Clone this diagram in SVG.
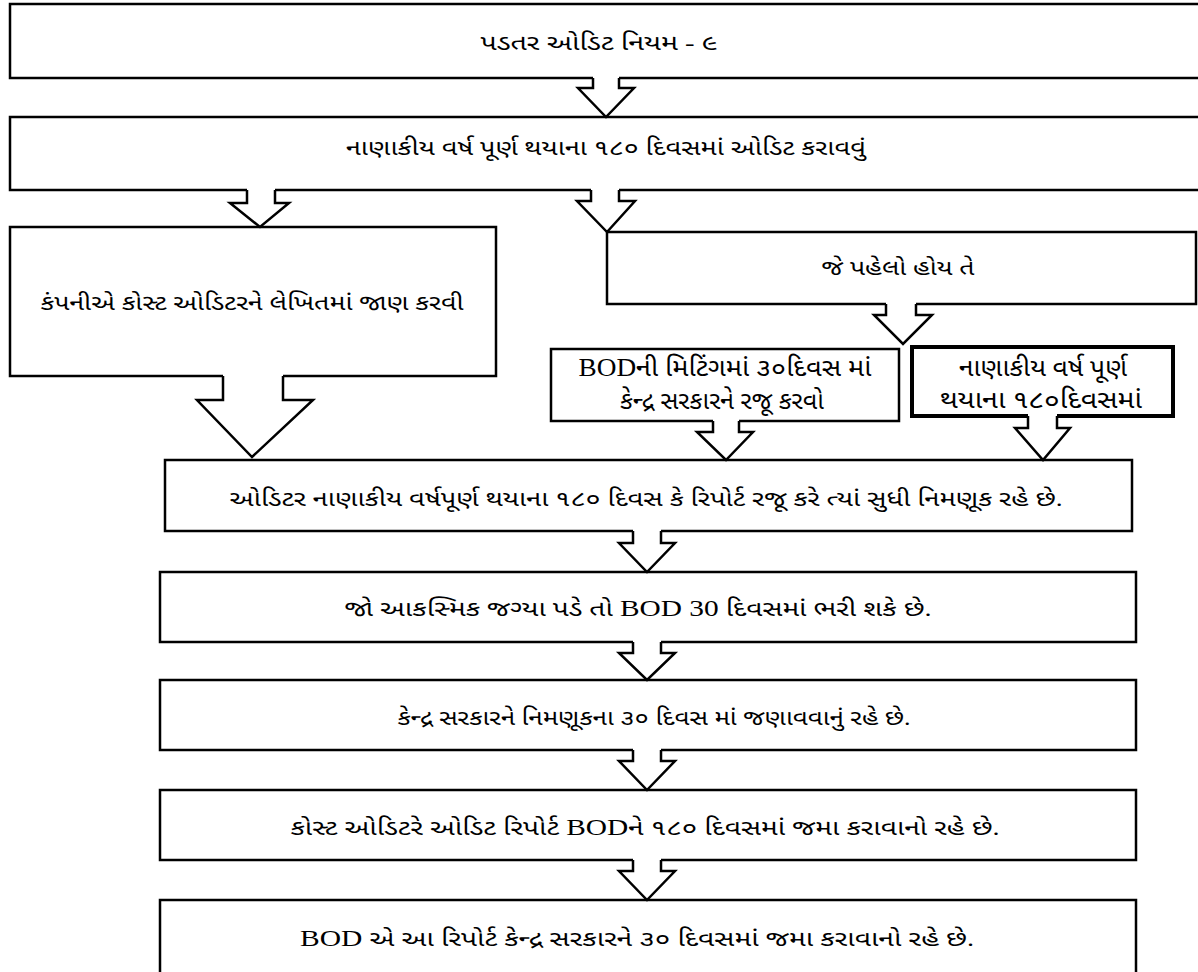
<svg xmlns="http://www.w3.org/2000/svg" width="1198" height="972" viewBox="0 0 1198 972">
<style>
.bx{fill:#fff;stroke:#000;stroke-width:2.5}
.bx6{fill:#fff;stroke:#000;stroke-width:4}
.af{fill:#fff;stroke:none}
.ao{fill:none;stroke:#000;stroke-width:2.5;stroke-linejoin:miter}
text{font-family:"Liberation Serif","Noto Sans Gujarati","Noto Serif Gujarati","Lohit Gujarati",serif;font-size:22px;fill:#000;text-anchor:middle}
.big{font-size:25px}
.lat{font-size:23px}
</style>
<rect width="1198" height="972" fill="#fff"/>
<g id="n1"><rect class="bx" x="10" y="4" width="1200" height="74"/><text x="599" y="50" textLength="237" lengthAdjust="spacingAndGlyphs">પડતર ઓડિટ નિયમ - ૯</text></g>
<g id="n2"><rect class="bx" x="10" y="117" width="1200" height="73"/><text x="606" y="155" textLength="520" lengthAdjust="spacingAndGlyphs">નાણાકીય વર્ષ પૂર્ણ થયાના ૧૮૦ દિવસમાં ઓડિટ કરાવવું</text></g>
<g id="n3"><rect class="bx" x="10" y="227" width="486" height="149"/><text x="252" y="310" textLength="423" lengthAdjust="spacingAndGlyphs">કંપનીએ કોસ્ટ ઓડિટરને લેખિતમાં જાણ કરવી</text></g>
<g id="n4"><rect class="bx" x="607" y="232" width="589" height="72"/><text x="898" y="275" textLength="153" lengthAdjust="spacingAndGlyphs">જે પહેલો હોય તે</text></g>
<g id="n5"><rect class="bx" x="551" y="349" width="348" height="72"/><text class="big" x="725" y="376" textLength="293" lengthAdjust="spacingAndGlyphs"><tspan class="big">BOD</tspan>ની મિટિંગમાં ૩૦દિવસ માં</text><text class="big" x="722" y="409" textLength="204" lengthAdjust="spacingAndGlyphs">કેન્દ્ર સરકારને રજૂ કરવો</text></g>
<g id="n6"><rect class="bx6" x="912" y="347" width="261" height="69"/><text class="big" x="1043" y="376" textLength="168" lengthAdjust="spacingAndGlyphs">નાણાકીય વર્ષ પૂર્ણ</text><text class="big" x="1041" y="408" textLength="202" lengthAdjust="spacingAndGlyphs">થયાના ૧૮૦દિવસમાં</text></g>
<g id="n7"><rect class="bx" x="165" y="460" width="967" height="71"/><text x="646" y="506" textLength="833" lengthAdjust="spacingAndGlyphs">ઓડિટર નાણાકીય વર્ષપૂર્ણ થયાના ૧૮૦ દિવસ કે રિપોર્ટ રજૂ કરે ત્યાં સુધી નિમણૂક રહે છે.</text></g>
<g id="n8"><rect class="bx" x="160" y="572" width="976" height="70"/><text x="638" y="616" textLength="587" lengthAdjust="spacingAndGlyphs">જો આકસ્મિક જગ્યા પડે તો <tspan class="lat">BOD 30</tspan> દિવસમાં ભરી શકે છે.</text></g>
<g id="n9"><rect class="bx" x="160" y="680" width="976" height="70"/><text x="654" y="725" textLength="513" lengthAdjust="spacingAndGlyphs">કેન્દ્ર સરકારને નિમણૂકના ૩૦ દિવસ માં જણાવવાનું રહે છે.</text></g>
<g id="n10"><rect class="bx" x="160" y="790" width="976" height="70"/><text x="645" y="835" textLength="709" lengthAdjust="spacingAndGlyphs">કોસ્ટ ઓડિટરે ઓડિટ રિપોર્ટ <tspan class="lat">BOD</tspan>ને ૧૮૦ દિવસમાં જમા કરાવાનો રહે છે.</text></g>
<g id="n11"><rect class="bx" x="160" y="900" width="976" height="100"/><text x="637" y="946" textLength="674" lengthAdjust="spacingAndGlyphs"><tspan class="lat">BOD</tspan> એ આ રિપોર્ટ કેન્દ્ર સરકારને ૩૦ દિવસમાં જમા કરાવાનો રહે છે.</text></g>
<g id="connectors">
<path class="af" d="M593,76 V88 H578 L606,117 L634,88 H619 V76 Z"/>
<path class="ao" d="M593,78 V88 H578 L606,117 L634,88 H619 V78"/>
<path class="af" d="M247,188 V203 H230 L260,227 L289,203 H275 V188 Z"/>
<path class="ao" d="M247,190 V203 H230 L260,227 L289,203 H275 V190"/>
<path class="af" d="M591,188 V201 H577 L607,232 L635,201 H619 V188 Z"/>
<path class="ao" d="M591,190 V201 H577 L607,232 L635,201 H619 V190"/>
<path class="af" d="M886,302 V315 H874 L903,344 L932,315 H916 V302 Z"/>
<path class="ao" d="M886,304 V315 H874 L903,344 L932,315 H916 V304"/>
<path class="af" d="M223,374 V400 H197 L252,457 L313,400 H283 V374 Z"/>
<path class="ao" d="M223,376 V400 H197 L252,457 L313,400 H283 V376"/>
<path class="af" d="M713,419 V432 H697 L726,460 L753,432 H739 V419 Z"/>
<path class="ao" d="M713,421 V432 H697 L726,460 L753,432 H739 V421"/>
<path class="af" d="M1028,414 V428 H1015 L1043,460 L1070,428 H1057 V414 Z"/>
<path class="ao" d="M1028,416 V428 H1015 L1043,460 L1070,428 H1057 V416"/>
<path class="af" d="M633,529 V543 H619 L647,572 L675,543 H661 V529 Z"/>
<path class="ao" d="M633,531 V543 H619 L647,572 L675,543 H661 V531"/>
<path class="af" d="M633,640 V653 H619 L647,680 L675,653 H661 V640 Z"/>
<path class="ao" d="M633,642 V653 H619 L647,680 L675,653 H661 V642"/>
<path class="af" d="M633,748 V761 H619 L647,790 L675,761 H661 V748 Z"/>
<path class="ao" d="M633,750 V761 H619 L647,790 L675,761 H661 V750"/>
<path class="af" d="M633,858 V871 H619 L647,900 L675,871 H661 V858 Z"/>
<path class="ao" d="M633,860 V871 H619 L647,900 L675,871 H661 V860"/>
</g>
</svg>
